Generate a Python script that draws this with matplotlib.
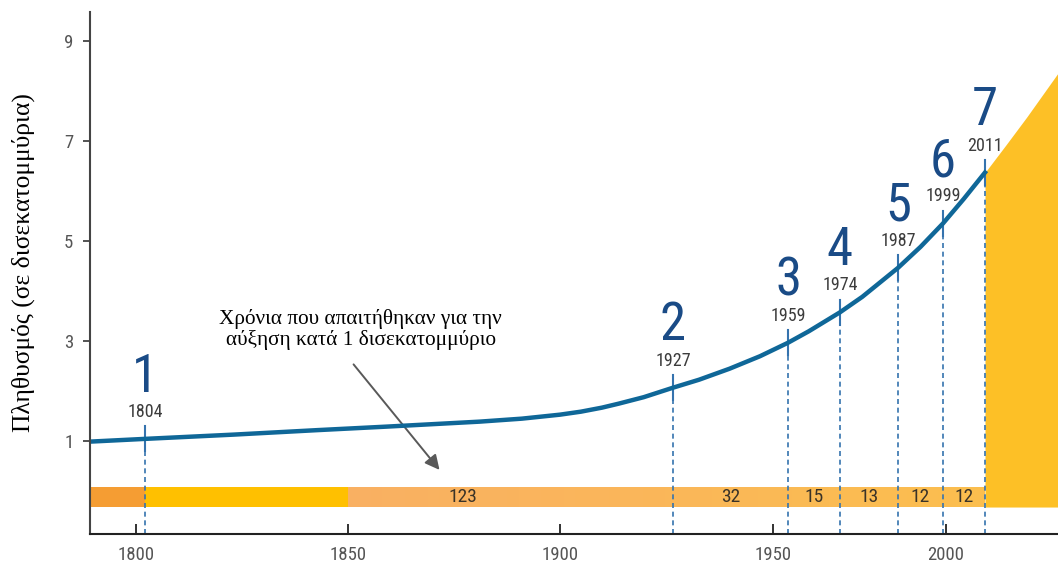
import numpy as np
import matplotlib
matplotlib.use("Agg")
import matplotlib.pyplot as plt
from matplotlib import font_manager
from matplotlib.font_manager import FontProperties
from matplotlib.colors import to_rgb

# milestones: n-th billion and the year it was reached
milestone_labels = ["1", "2", "3", "4", "5", "6", "7"]
milestone_years = [1804, 1927, 1959, 1974, 1987, 1999, 2011]

# population curve as drawn (billions)
curve_years = [1789, 1804, 1824, 1843, 1859, 1881, 1891, 1900, 1905, 1910,
               1914, 1920, 1927, 1933, 1940, 1947, 1959, 1965, 1974, 1979,
               1987, 1993, 1999, 2005, 2011]
curve_values = [0.98, 1.035, 1.12, 1.21, 1.28, 1.38, 1.44, 1.52, 1.58, 1.66,
                1.74, 1.87, 2.06, 2.22, 2.44, 2.69, 2.96, 3.19, 3.57, 3.88,
                4.46, 4.88, 5.35, 5.84, 6.37]

# projection after 2011 (yellow area)
proj_years = [2011, 2017, 2023, 2032]
proj_values = [6.37, 6.92, 7.48, 8.36]

# years needed for each extra billion
gap_labels = ["123", "32", "15", "13", "12", "12"]

x_ticks = [1800, 1850, 1900, 1950, 2000]
y_ticks = [1, 3, 5, 7, 9]

# the original axis is not evenly spaced, so warp it the same way
warp_years = [1789, 1800, 1804, 1850, 1900, 1927, 1950, 1959, 1974, 1987, 1999, 2000, 2011, 2032]
warp_pos = [90, 136, 145, 348, 560, 673, 773, 788, 840, 898, 943, 946, 985, 1058]


def fwd(x):
    return np.interp(x, warp_years, warp_pos)


def inv(p):
    return np.interp(p, warp_pos, warp_years)


def pick_narrow():
    pref = ["Liberation Sans Narrow", "Roboto Condensed", "Open Sans Condensed",
            "Noto Sans Condensed", "DejaVu Sans Condensed", "Noto Sans", "Roboto",
            "Open Sans", "DejaVu Sans"]
    found = []
    for f in font_manager.fontManager.ttflist:
        if f.style != "normal" or "Mono" in f.name or "Serif" in f.name or "CJK" in f.name:
            continue
        if f.weight not in (400, "normal", "regular", "book"):
            continue
        if "condensed" in str(f.stretch) and "extra" not in str(f.stretch) and "ultra" not in str(f.stretch):
            rank = pref.index(f.name) if f.name in pref else 50
            found.append((rank, f.fname))
        elif f.name == "Liberation Sans Narrow":
            found.append((-1, f.fname))
    if found:
        found.sort()
        return FontProperties(fname=found[0][1]), True
    return FontProperties(family="Liberation Sans"), False


narrow_fp, is_narrow = pick_narrow()
k = 1.0 if is_narrow else 0.84
serif = dict(family=["Liberation Serif", "DejaVu Serif"])

navy = "#1a4b86"
curve_col = "#0f6798"
dash_col = "#3573ae"


def nfont(size):
    fp = narrow_fp.copy()
    fp.set_size(size * k)
    return fp


milestone_values = np.interp(milestone_years, curve_years, curve_values)

fig = plt.figure(figsize=(10.58, 5.63), dpi=100)
ax = fig.add_axes([90 / 1058, 29 / 563, 968 / 1058, 522.3 / 563])
ax.set_xscale("function", functions=(fwd, inv))
ax.set_xlim(1789, 2032)
ax.set_ylim(-0.87, 9.59)

band_lo, band_hi = -0.33, 0.07

# bottom band
ax.fill_between([1789, milestone_years[0]], band_lo, band_hi, color="#f59d33", lw=0, zorder=1)
ax.fill_between([milestone_years[0], 1850], band_lo, band_hi, color="#ffc000", lw=0, zorder=1)
c0, c1 = np.array(to_rgb("#f9b062")), np.array(to_rgb("#fbbe4e"))
edges = np.linspace(1850, milestone_years[-1], 61)
for i in range(60):
    t = i / 59
    ax.fill_between(edges[i:i + 2], band_lo, band_hi, color=c0 * (1 - t) + c1 * t, lw=0, zorder=1)

# projection area
ax.fill_between(proj_years, band_lo, proj_values, color="#fdc026", lw=0, zorder=1)

# population curve
ax.plot(curve_years, curve_values, color=curve_col, lw=3.2, solid_joinstyle="round", zorder=4)

# milestone markers and labels
for lab, yr, v in zip(milestone_labels, milestone_years, milestone_values):
    ax.plot([yr, yr], [-0.87, v], color=dash_col, lw=1.2, ls=(0, (3, 2.2)), zorder=3)
    ax.plot([yr, yr], [v - 0.25, v + 0.25], color=dash_col, lw=1.5, zorder=3)
    ax.annotate(lab, (yr, v), xytext=(0, 34), textcoords="offset points",
                ha="center", va="baseline", fontproperties=nfont(38), color=navy)
    ax.annotate(str(yr), (yr, v), xytext=(0, 15.8), textcoords="offset points",
                ha="center", va="baseline", fontproperties=nfont(13), color="#3c3c3c")

# gap labels inside the band
gap_x = [1877] + [inv((fwd(a) + fwd(b)) / 2)
                  for a, b in zip(milestone_years[1:], milestone_years[2:])]
for lab, x in zip(gap_labels, gap_x):
    ax.text(x, (band_lo + band_hi) / 2, lab, ha="center", va="center",
            fontproperties=nfont(14), color="#3a3328", zorder=5)

# note with arrow
ax.text(1853, 3.23, "Χρόνια που απαιτήθηκαν για την\nαύξηση κατά 1 δισεκατομμύριο",
        ha="center", va="center", fontsize=15.3, linespacing=1.1, color="black", **serif)
ax.annotate("", xy=(1872, 0.37), xytext=(1850.9, 2.57),
            arrowprops=dict(arrowstyle="-|>", color="#595959", lw=1.4, mutation_scale=22))

# axes styling
for s in ["top", "right"]:
    ax.spines[s].set_visible(False)
ax.spines["left"].set_color("#444444")
ax.spines["left"].set_linewidth(1.5)
ax.spines["bottom"].set_color("#222222")
ax.spines["bottom"].set_linewidth(1.5)
ax.spines["left"].set_zorder(6)
ax.spines["bottom"].set_zorder(6)

ax.set_xticks(x_ticks)
ax.set_xticklabels([str(t) for t in x_ticks], fontproperties=nfont(13.5), color="#555555")
ax.set_yticks(y_ticks)
ax.set_yticklabels([str(t) for t in y_ticks], fontproperties=nfont(13.5), color="#555555")
ax.tick_params(axis="x", direction="in", length=7, width=1.3, pad=9, color="#222222")
ax.tick_params(axis="y", direction="out", length=5, width=1.3, pad=7, color="#444444")

ax.set_ylabel("Πληθυσμός (σε δισεκατομμύρια)", fontsize=18.4, color="black", **serif)
ax.yaxis.set_label_coords(-0.057, 0.52)

fig.savefig("out.png", dpi=100)
